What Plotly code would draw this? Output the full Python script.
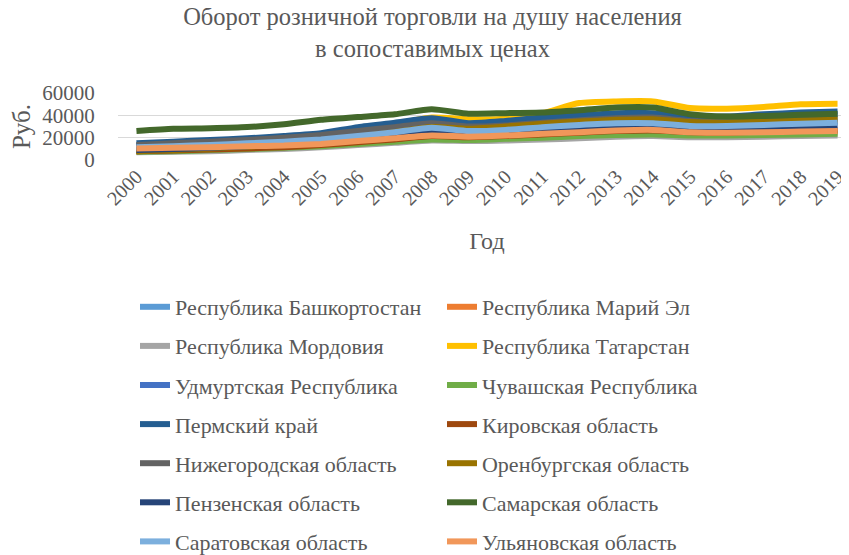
import plotly.graph_objects as go

years = [str(y) for y in range(2000, 2020)]

regions = [
    "Республика Башкортостан", "Республика Марий Эл",
    "Республика Мордовия", "Республика Татарстан",
    "Удмуртская Республика", "Чувашская Республика",
    "Пермский край", "Кировская область",
    "Нижегородская область", "Оренбургская область",
    "Пензенская область", "Самарская область",
    "Саратовская область", "Ульяновская область",
]

bashkortostan = [13000, 14000, 15000, 16500, 18000, 20500, 23500, 27000, 30500, 28500, 30000, 32000, 34000, 35500, 35500, 32500, 32000, 33000, 34000, 34500]
mari_el = [8000, 8500, 9500, 10500, 11500, 13000, 15500, 18000, 20500, 20000, 21000, 22500, 24000, 25000, 25500, 24000, 23500, 24000, 24500, 25000]
mordovia = [7000, 7500, 8000, 9000, 10000, 11500, 13500, 15500, 17500, 17000, 17500, 18500, 19500, 21000, 21500, 20500, 20500, 21000, 21500, 22000]
tatarstan = [9000, 10500, 12500, 14500, 17000, 21000, 26000, 32000, 38000, 36500, 37000, 42000, 51000, 52500, 52500, 46500, 46000, 47500, 50000, 50500]
udmurtia = [12500, 14000, 15500, 17000, 19000, 22000, 26000, 30000, 34000, 31500, 33000, 36000, 38500, 40500, 41000, 37000, 37000, 38500, 40000, 41000]
chuvashia = [7500, 8000, 9000, 10000, 11000, 12500, 14500, 16500, 18500, 18000, 19000, 20000, 21500, 22500, 23000, 22000, 22000, 22500, 23000, 23500]
perm = [15000, 16500, 18000, 19500, 21500, 24000, 29500, 33500, 37500, 33000, 35000, 38000, 40000, 42000, 42000, 38500, 39000, 41000, 42500, 43500]
kirov = [8000, 8500, 9500, 10500, 11500, 13500, 16000, 18500, 21500, 20500, 21500, 23000, 24500, 26000, 26500, 25000, 24500, 25500, 26000, 26500]
nizhny = [13500, 15000, 16500, 18000, 20000, 22500, 26000, 29500, 33000, 30000, 31000, 33500, 35500, 37500, 38000, 35000, 34500, 35500, 36500, 37000]
orenburg = [8000, 9000, 10500, 12000, 14000, 17000, 21000, 25000, 29500, 28000, 30000, 32500, 34500, 36000, 36500, 34000, 33500, 34500, 35500, 36000]
penza = [9000, 10000, 11000, 12500, 14000, 16000, 19000, 22000, 25000, 24000, 25500, 27500, 29000, 30500, 30500, 28500, 28000, 29000, 30000, 31000]
samara = [26000, 28000, 28500, 29500, 32000, 36000, 38500, 41000, 45500, 41500, 42000, 42500, 44500, 47000, 47000, 41000, 39000, 39500, 40500, 41500]
saratov = [11500, 12500, 13500, 15000, 16500, 18500, 21500, 25000, 29000, 26000, 27000, 29500, 31500, 33000, 33000, 30500, 30500, 31500, 32500, 33500]
ulyanovsk = [10500, 11000, 11500, 12500, 13000, 14500, 17000, 19500, 22000, 21000, 22000, 23500, 25000, 26500, 27000, 25000, 24500, 25000, 25500, 26000]

series = [bashkortostan, mari_el, mordovia, tatarstan, udmurtia, chuvashia, perm,
          kirov, nizhny, orenburg, penza, samara, saratov, ulyanovsk]

colors = ["#5B9BD5", "#ED7D31", "#A5A5A5", "#FFC000", "#4472C4", "#70AD47", "#255E91",
          "#9E480E", "#636363", "#997300", "#264478", "#43682B", "#7CAFDD", "#F1975A"]

FONT = "'Liberation Serif', 'Times New Roman', 'DejaVu Serif', serif"
GREY = "#595959"

fig = go.Figure()
for i, (name, vals, col) in enumerate(zip(regions, series, colors)):
    fig.add_trace(go.Scatter(
        x=years, y=vals, name=name, mode="lines",
        line=dict(color=col, width=6, shape="spline", smoothing=0.6),
        legend="legend" if i % 2 == 0 else "legend2",
        legendgroup=name,
    ))

legend_common = dict(
    orientation="v", xanchor="left", yanchor="top",
    font=dict(family=FONT, size=22, color=GREY),
    bgcolor="rgba(0,0,0,0)", tracegroupgap=7.5, itemwidth=30,
)

fig.update_layout(
    width=849, height=555,
    margin=dict(l=110, r=1, t=85, b=0),
    paper_bgcolor="white", plot_bgcolor="white",
    font=dict(family=FONT, color=GREY),
    title=dict(
        text="Оборот розничной торговли на душу населения<br>в сопоставимых ценах",
        x=0.5, xanchor="center", y=0.969, yanchor="top",
        font=dict(family=FONT, size=24.5, color=GREY),
    ),
    xaxis=dict(
        type="category", tickangle=-45, showgrid=False, showline=False,
        automargin=False, anchor="y",
        tickfont=dict(family=FONT, size=20, color=GREY),
        title=dict(text="Год", font=dict(family=FONT, size=24, color=GREY), standoff=23),
        range=[-0.5, 19.5],
    ),
    yaxis=dict(
        domain=[0.8394, 1.0],
        range=[0, 60000], dtick=20000, showgrid=True, gridcolor="#D9D9D9", gridwidth=1,
        zeroline=False, showline=False, automargin=False,
        ticks="outside", ticklen=18, tickcolor="rgba(0,0,0,0)",
        tickfont=dict(family=FONT, size=21, color=GREY),
        title=dict(text="Руб.", font=dict(family=FONT, size=25, color=GREY), standoff=14),
        tickformat="d",
    ),
    legend=dict(x=0.023, y=0.5379, **legend_common),
    legend2=dict(x=0.439, y=0.5379, **legend_common),
    showlegend=True,
)

fig.write_html("out.html")
